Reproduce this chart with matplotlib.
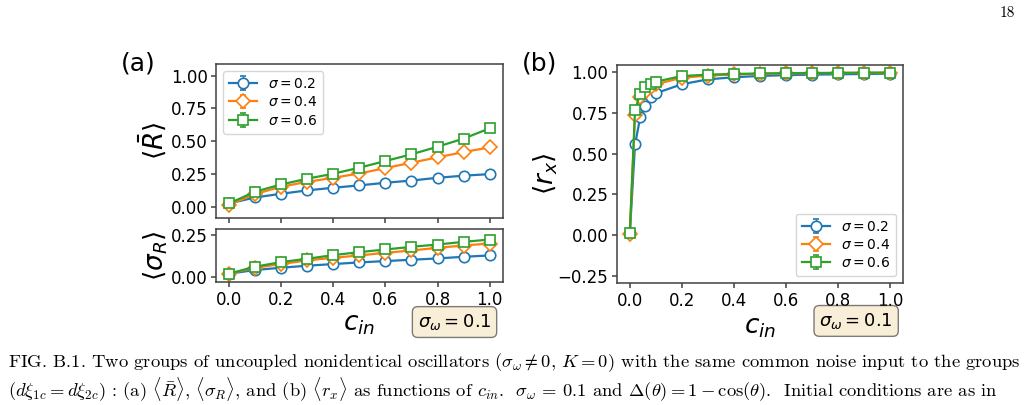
import matplotlib
matplotlib.use('Agg')
import matplotlib.pyplot as plt

# panel (a): c_in grid and the two measures for each sigma
c_in = [0.0, 0.1, 0.2, 0.3, 0.4, 0.5, 0.6, 0.7, 0.8, 0.9, 1.0]

R_s02 = [0.025, 0.071, 0.099, 0.125, 0.145, 0.163, 0.183, 0.200, 0.221, 0.237, 0.249]
R_s04 = [0.015, 0.097, 0.153, 0.190, 0.221, 0.254, 0.295, 0.336, 0.377, 0.417, 0.453]
R_s06 = [0.025, 0.115, 0.170, 0.214, 0.252, 0.298, 0.349, 0.400, 0.458, 0.520, 0.598]
R_err_s02 = [0.004, 0.004, 0.004, 0.004, 0.004, 0.004, 0.004, 0.004, 0.004, 0.004, 0.004]
R_err_s04 = [0.022, 0.012, 0.010, 0.010, 0.010, 0.010, 0.010, 0.010, 0.010, 0.010, 0.010]
R_err_s06 = [0.006, 0.006, 0.006, 0.006, 0.006, 0.006, 0.006, 0.006, 0.006, 0.006, 0.006]

sR_s02 = [0.018, 0.040, 0.054, 0.066, 0.076, 0.086, 0.094, 0.102, 0.110, 0.120, 0.128]
sR_s04 = [0.018, 0.054, 0.076, 0.098, 0.114, 0.128, 0.144, 0.158, 0.174, 0.188, 0.200]
sR_s06 = [0.018, 0.060, 0.088, 0.108, 0.130, 0.148, 0.164, 0.180, 0.194, 0.210, 0.224]
sR_err_s02 = [0.003, 0.003, 0.003, 0.003, 0.003, 0.003, 0.003, 0.003, 0.003, 0.003, 0.003]
sR_err_s04 = [0.015, 0.010, 0.008, 0.008, 0.008, 0.008, 0.008, 0.008, 0.008, 0.008, 0.008]
sR_err_s06 = [0.004, 0.004, 0.004, 0.004, 0.004, 0.004, 0.004, 0.004, 0.004, 0.004, 0.004]

# panel (b): finer grid near zero
c_in_b = [0.0, 0.02, 0.04, 0.06, 0.08, 0.1, 0.2, 0.3, 0.4, 0.5, 0.6, 0.7, 0.8, 0.9, 1.0]
rx_s02 = [0.013, 0.556, 0.722, 0.793, 0.844, 0.870, 0.925, 0.955, 0.968, 0.976, 0.981, 0.984, 0.986, 0.988, 0.990]
rx_s04 = [0.010, 0.735, 0.845, 0.880, 0.908, 0.925, 0.965, 0.978, 0.985, 0.989, 0.991, 0.993, 0.994, 0.995, 0.995]
rx_s06 = [0.015, 0.767, 0.868, 0.909, 0.929, 0.941, 0.975, 0.984, 0.988, 0.991, 0.993, 0.994, 0.995, 0.996, 0.997]
rx_err_s02 = [0.004, 0.004, 0.004, 0.004, 0.004, 0.004, 0.004, 0.004, 0.004, 0.004, 0.004, 0.004, 0.004, 0.004, 0.004]
rx_err_s04 = [0.022, 0.020, 0.020, 0.020, 0.020, 0.020, 0.020, 0.020, 0.020, 0.020, 0.020, 0.020, 0.020, 0.020, 0.020]
rx_err_s06 = [0.006, 0.006, 0.006, 0.006, 0.006, 0.006, 0.006, 0.006, 0.006, 0.006, 0.006, 0.006, 0.006, 0.006, 0.006]

sigma_labels = [r'$\sigma = 0.2$', r'$\sigma = 0.4$', r'$\sigma = 0.6$']
colors = ['#1f77b4', '#ff7f0e', '#2ca02c']
markers = ['o', 'D', 's']

caption_1 = (r'FIG. B.1. Two groups of uncoupled nonidentical oscillators ($\sigma_\omega \neq 0$, $K = 0$) '
             r'with the same common noise input to the groups')
caption_2 = (r'($d\xi_{1c} = d\xi_{2c}$) : (a) $\langle\bar{R}\rangle$, $\langle\sigma_R\rangle$, and (b) '
             r'$\langle r_x\rangle$ as functions of $c_{in}$.  $\sigma_\omega$ = 0.1 and '
             r'$\Delta(\theta) = 1 - \cos(\theta)$.  Initial conditions are as in')

spine_col = '0.25'


def style_axes(ax):
    for s in ax.spines.values():
        s.set_color(spine_col)
        s.set_linewidth(1.1)
    ax.tick_params(labelsize=12, color=spine_col, width=1.1, length=3.5, pad=2.5)


def draw_series(ax, x, ys, errs, with_label):
    for y, e, lab, col, mk in zip(ys, errs, sigma_labels, colors, markers):
        ax.errorbar(x, y, yerr=e, color=col, marker=mk, markersize=7.5 if mk != 'D' else 7,
                    markerfacecolor='white', markeredgewidth=1.2, linewidth=1.6,
                    capsize=2.5, elinewidth=1.0, label=lab if with_label else None)


fig = plt.figure(figsize=(10.28, 4.05), dpi=100)
ax1 = fig.add_axes([0.2101, 0.4610, 0.2789, 0.381])
ax2 = fig.add_axes([0.2101, 0.3030, 0.2789, 0.1309], sharex=ax1)
ax3 = fig.add_axes([0.6000, 0.3005, 0.2785, 0.5402])

props = dict(boxstyle='round', facecolor='wheat', alpha=0.5)
leg_kw = dict(fontsize=10, labelspacing=0.3, handlelength=2.0, borderpad=0.45)

# (a) top: <R bar>
draw_series(ax1, c_in, [R_s02, R_s04, R_s06], [R_err_s02, R_err_s04, R_err_s06], True)
ax1.set_ylim(-0.088, 1.089)
ax1.set_yticks([0.0, 0.25, 0.5, 0.75, 1.0])
ax1.tick_params(labelbottom=False)
ax1.set_ylabel(r'$\langle\bar{R}\rangle$', fontsize=19)
ax1.yaxis.set_label_coords(-0.165, 0.5)
ax1.legend(loc='upper left', **leg_kw)
style_axes(ax1)

# (a) bottom: <sigma_R>
draw_series(ax2, c_in, [sR_s02, sR_s04, sR_s06], [sR_err_s02, sR_err_s04, sR_err_s06], False)
ax2.set_ylim(-0.034, 0.286)
ax2.set_yticks([0.0, 0.25])
ax2.set_xlim(-0.05, 1.05)
ax2.set_xticks([0.0, 0.2, 0.4, 0.6, 0.8, 1.0])
ax2.set_ylabel(r'$\langle\sigma_R\rangle$', fontsize=19)
ax2.yaxis.set_label_coords(-0.16, 0.5)
ax2.set_xlabel(r'$c_{in}$', fontsize=19)
ax2.xaxis.set_label_coords(0.5, -0.55)
ax2.text(0.832, -0.75, r'$\sigma_\omega = 0.1$', fontsize=13, ha='center', va='center',
         transform=ax2.transAxes, bbox=props)
style_axes(ax2)

# (b) <r_x>
draw_series(ax3, c_in_b, [rx_s02, rx_s04, rx_s06], [rx_err_s02, rx_err_s04, rx_err_s06], True)
ax3.set_xlim(-0.05, 1.05)
ax3.set_ylim(-0.295, 1.046)
ax3.set_xticks([0.0, 0.2, 0.4, 0.6, 0.8, 1.0])
ax3.set_yticks([-0.25, 0.0, 0.25, 0.5, 0.75, 1.0])
ax3.set_ylabel(r'$\langle r_x\rangle$', fontsize=19)
ax3.yaxis.set_label_coords(-0.198, 0.5)
ax3.set_xlabel(r'$c_{in}$', fontsize=19)
ax3.xaxis.set_label_coords(0.5, -0.14)
ax3.legend(loc='lower right', **leg_kw)
ax3.text(0.836, -0.172, r'$\sigma_\omega = 0.1$', fontsize=13, ha='center', va='center',
         transform=ax3.transAxes, bbox=props)
style_axes(ax3)

fig.text(138 / 1028, 1 - 64 / 405, '(a)', fontsize=18, ha='center', va='center')
fig.text(540 / 1028, 1 - 64 / 405, '(b)', fontsize=18, ha='center', va='center')

# page number and caption in a TeX-like serif
fig.text(1015 / 1028, 1 - 13 / 405, '18', fontsize=11, ha='right', va='center',
         family='cmr10', math_fontfamily='cm')
t1 = fig.text(8 / 1028, 1 - 372 / 405, caption_1, fontsize=11, ha='left', va='baseline',
              family='cmr10', math_fontfamily='cm')
t2 = fig.text(8 / 1028, 1 - 396 / 405, caption_2, fontsize=11, ha='left', va='baseline',
              family='cmr10', math_fontfamily='cm')

# scale caption size so the first line spans the page width like the justified original
fig.canvas.draw()
w = t1.get_window_extent().width
fs = 11 * (1014 / w)
t1.set_fontsize(fs)
t2.set_fontsize(fs)

# stack the caption lines from the bottom edge up so they neither clip nor touch
H = fig.bbox.height
fig.canvas.draw()
bb2 = t2.get_window_extent()
x2, y2 = t2.get_position()
t2.set_position((x2, y2 + (2 - bb2.y0) / H))
fig.canvas.draw()
top2 = t2.get_window_extent().y1
bb1 = t1.get_window_extent()
if bb1.y0 < top2 + 1:
    x1, y1 = t1.get_position()
    t1.set_position((x1, y1 + (top2 + 1 - bb1.y0) / H))

fig.savefig('out.png', dpi=100)
